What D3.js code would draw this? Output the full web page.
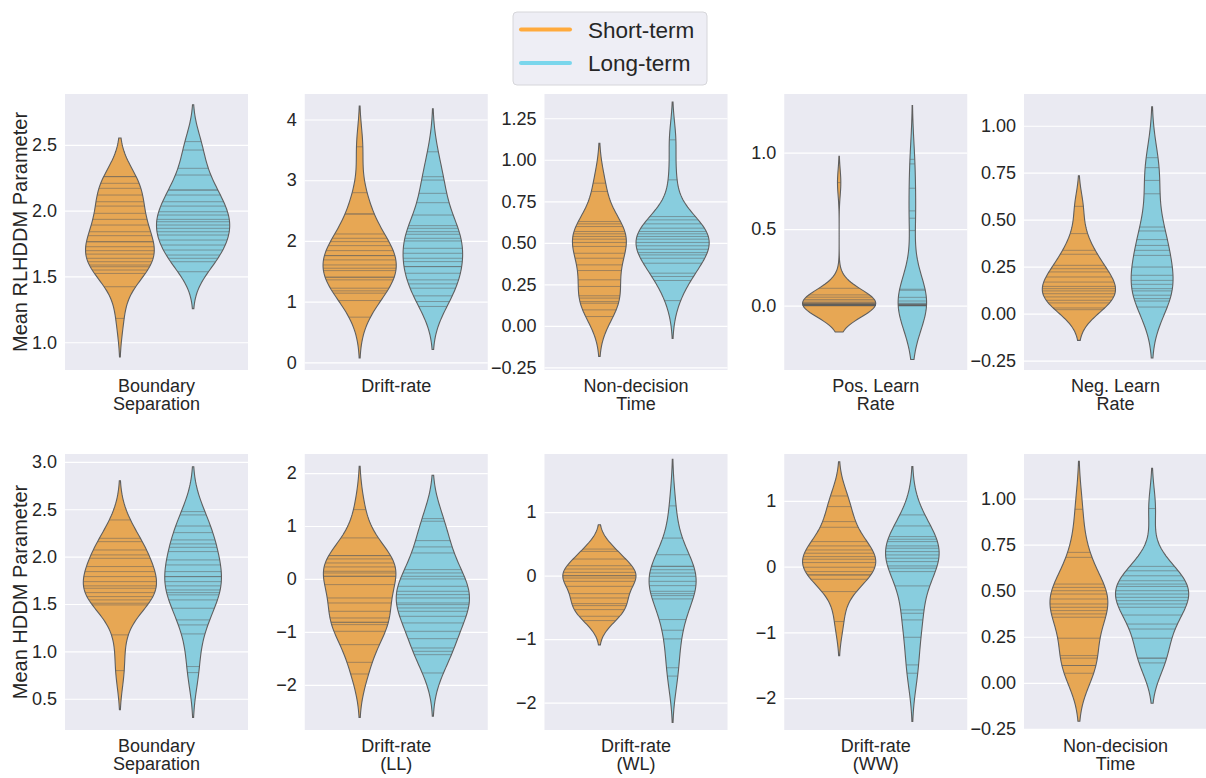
<!DOCTYPE html>
<html>
<head>
<meta charset="utf-8">
<script src="https://cdn.jsdelivr.net/npm/d3@7"></script>
<style>
  body { margin: 0; background: #ffffff; }
  svg { display: block; font-family: "Liberation Sans", Arial, sans-serif; }
</style>
</head>
<body>
<svg id="chart" width="1206" height="778"></svg>
<script>
// ---- data -------------------------------------------------------------
const groups = ["Short-term", "Long-term"];
const groupColors = ["#FFAA3C", "#7AD6EC"];

const rowLabels = ["Mean RLHDDM Parameter", "Mean HDDM Parameter"];

const paramLabels = [
  ["Boundary", "Separation"], ["Drift-rate"], ["Non-decision", "Time"],
  ["Pos. Learn", "Rate"], ["Neg. Learn", "Rate"],
  ["Boundary", "Separation"], ["Drift-rate", "(LL)"], ["Drift-rate", "(WL)"],
  ["Drift-rate", "(WW)"], ["Non-decision", "Time"]
];

// per-participant parameter means, short-term group
const shortTerm = [
  [2.259, 2.259, 2.208, 2.17, 2.119, 2.068, 2.035, 1.98, 1.934, 1.891, 1.84, 1.81, 1.764, 1.764, 1.726, 1.696, 1.67, 1.638, 1.612, 1.587, 1.574, 1.549, 1.523, 1.422, 1.181],
  [3.551, 2.795, 2.444, 2.444, 2.115, 2.044, 1.989, 1.923, 1.841, 1.759, 1.759, 1.688, 1.605, 1.551, 1.512, 1.403, 1.403, 1.359, 1.222, 1.178, 1.14, 1.019, 0.745],
  [0.859, 0.809, 0.628, 0.614, 0.598, 0.568, 0.554, 0.538, 0.522, 0.502, 0.478, 0.437, 0.407, 0.367, 0.333, 0.277, 0.237, 0.181, 0.167, 0.146, 0.136, 0.096, 0.056],
  [0.804, 0.113, 0.07, 0.055, 0.04, 0.03, 0.02, 0.015, 0.012, 0.01, 0.008, 0.006, 0.005, 0.004, 0.003, 0.002, 0.002, 0.001, 0.001, 0.001, 0, 0, 0, 0],
  [0.571, 0.426, 0.337, 0.316, 0.257, 0.239, 0.222, 0.195, 0.168, 0.145, 0.133, 0.121, 0.106, 0.089, 0.071, 0.057, 0.03, 0.021],
  [2.387, 2.193, 2.158, 2.07, 2.018, 1.982, 1.895, 1.842, 1.789, 1.736, 1.691, 1.666, 1.62, 1.578, 1.543, 1.508, 1.49, 1.174, 0.797],
  [1.31, 0.775, 0.441, 0.441, 0.378, 0.302, 0.227, 0.145, 0.113, 0.05, 0.05, -0.107, -0.359, -0.454, -0.611, -0.737, -0.819, -0.819, -0.863, -0.989, -1.241, -1.575, -1.795],
  [0.419, 0.382, 0.262, 0.157, 0.105, 0.052, 0, 0, -0.037, -0.089, -0.168, -0.283, -0.351, -0.44, -0.471, -0.534, -0.639, -0.707],
  [1.074, 0.912, 0.684, 0.598, 0.38, 0.314, 0.253, 0.203, 0.152, 0.112, 0.061, -0.01, -0.076, -0.127, -0.127, -0.193, -0.38, -0.836],
  [0.942, 0.708, 0.681, 0.536, 0.518, 0.5, 0.482, 0.455, 0.428, 0.41, 0.392, 0.374, 0.356, 0.242, 0.148, 0.134, 0.094, 0.094, 0.052]
];

// per-participant parameter means, long-term group
const longTerm = [
  [2.525, 2.461, 2.322, 2.271, 2.157, 2.157, 2.119, 2.068, 2.035, 1.992, 1.967, 1.934, 1.916, 1.891, 1.866, 1.84, 1.815, 1.777, 1.739, 1.701, 1.663, 1.638, 1.612, 1.536],
  [3.468, 3.058, 3.003, 2.784, 2.63, 2.427, 2.252, 2.208, 2.153, 2.11, 2.044, 2.0, 1.879, 1.797, 1.715, 1.66, 1.578, 1.578, 1.468, 1.359, 1.293, 1.222, 1.096, 1.003, 0.921],
  [1.12, 0.879, 0.658, 0.638, 0.614, 0.588, 0.568, 0.554, 0.538, 0.522, 0.502, 0.482, 0.461, 0.441, 0.427, 0.407, 0.377, 0.317, 0.297, 0.273, 0.152],
  [0.956, 0.926, 0.767, 0.619, 0.571, 0.49, 0.107, 0.1, 0.054, 0.03, 0.015, 0.01, 0.008, 0.005, 0.003, 0.002, 0.001, 0.001, 0, 0, 0, 0, 0],
  [0.83, 0.777, 0.709, 0.638, 0.461, 0.44, 0.394, 0.363, 0.337, 0.31, 0.248, 0.204, 0.177, 0.156, 0.133, 0.121, 0.098, 0.08, 0.067, 0.035],
  [2.475, 2.44, 2.323, 2.253, 2.176, 2.134, 2.098, 2.053, 1.965, 1.912, 1.842, 1.789, 1.789, 1.736, 1.691, 1.648, 1.62, 1.596, 1.543, 1.455, 1.332, 1.279, 1.184, 0.84, 0.776],
  [1.14, 1.09, 0.724, 0.605, 0.491, 0.176, 0.113, 0.05, 0, -0.139, -0.233, -0.296, -0.359, -0.454, -0.485, -0.548, -0.611, -0.706, -0.831, -0.989, -1.128, -1.304, -1.367, -1.43, -1.776],
  [1.099, 0.592, 0.33, 0.147, 0.147, 0.094, 0.042, -0.01, -0.089, -0.157, -0.246, -0.283, -0.314, -0.366, -0.691, -0.859, -0.995, -1.45, -1.581],
  [0.786, 0.618, 0.456, 0.416, 0.38, 0.314, 0.279, 0.228, 0.177, 0.127, 0.076, 0.01, -0.025, -0.076, -0.294, -0.659, -0.71, -0.811, -1.075, -1.495, -1.622],
  [0.946, 0.632, 0.608, 0.581, 0.554, 0.536, 0.523, 0.5, 0.482, 0.464, 0.446, 0.428, 0.41, 0.368, 0.319, 0.292, 0.242, 0.134, 0.134, 0.108]
];

const yDomains = [
  [0.789, 2.887], [-0.125, 4.42], [-0.266, 1.396], [-0.421, 1.383], [-0.3, 1.169],
  [0.17, 3.083], [-2.853, 2.36], [-2.43, 1.916], [-2.485, 1.712], [-0.256, 1.242]
];

const yTicks = [
  [1.0, 1.5, 2.0, 2.5], [0, 1, 2, 3, 4], [-0.25, 0, 0.25, 0.5, 0.75, 1.0, 1.25],
  [0, 0.5, 1.0], [-0.25, 0, 0.25, 0.5, 0.75, 1.0],
  [0.5, 1.0, 1.5, 2.0, 2.5, 3.0], [-2, -1, 0, 1, 2], [-2, -1, 0, 1],
  [-2, -1, 0, 1], [-0.25, 0, 0.25, 0.5, 0.75, 1.0]
];

const tickFormats = [".1f", "d", ".2f", ".1f", ".2f", ".1f", "d", "d", "d", ".2f"];

// ---- layout -----------------------------------------------------------
const svg = d3.select("#chart");
const panelW = 183, panelH = 276;
const colLeft = c => 65 + c * 239.75;
const rowTop = [94, 454];
const textColor = "#262626";
const axesBg = "#EAEAF2";

// lighter, desaturated fill for the violin bodies
const fillColors = groupColors.map(c => {
  const h = d3.hsl(c);
  h.s *= 0.75;
  return h.formatHex();
});
const lineGray = (() => {
  const l = d3.min(groupColors, c => d3.hsl(c).l) * 0.6;
  return d3.rgb(255 * l, 255 * l, 255 * l).formatHex();
})();

// Gaussian KDE with Scott's bandwidth, support cut at 2 bandwidths
function kde(vals) {
  const n = vals.length;
  const bw = Math.pow(n, -0.2) * d3.deviation(vals);
  const lo = d3.min(vals) - 2 * bw, hi = d3.max(vals) + 2 * bw;
  const norm = 1 / (n * bw * Math.sqrt(2 * Math.PI));
  const at = v => norm * d3.sum(vals, x => Math.exp(-0.5 * ((v - x) / bw) ** 2));
  const grid = d3.range(100).map(i => lo + (hi - lo) * i / 99);
  return { at, curve: grid.map(v => ({ v, d: at(v) })) };
}

const fmtMinus = f => v => d3.format(f)(v).replace("-", "\u2212");

paramLabels.forEach((label, p) => {
  const row = Math.floor(p / 5), col = p % 5;
  const x0 = colLeft(col), y0 = rowTop[row];
  const g = svg.append("g").attr("transform", `translate(${x0},${y0})`);

  const x = d3.scaleLinear().domain([-0.5, 0.5]).range([0, panelW]);
  const y = d3.scaleLinear().domain(yDomains[p]).range([panelH, 0]);

  g.append("rect").attr("width", panelW).attr("height", panelH).attr("fill", axesBg);

  // horizontal grid + tick labels
  const yAxis = d3.axisLeft(y).tickValues(yTicks[p]).tickFormat(fmtMinus(tickFormats[p]))
    .tickSize(-panelW).tickPadding(8);
  const ax = g.append("g").call(yAxis);
  ax.select(".domain").remove();
  ax.selectAll(".tick line").attr("stroke", "#ffffff").attr("stroke-width", 1.2);
  ax.selectAll(".tick text").attr("fill", textColor).attr("font-size", 18)
    .attr("font-family", "Liberation Sans, Arial, sans-serif");

  const sets = [shortTerm[p], longTerm[p]];
  const dens = sets.map(kde);
  const maxD = d3.max(dens, k => d3.max(k.curve, c => c.d));
  const half = 0.2;
  const centers = [-0.2, 0.2];

  sets.forEach((vals, gi) => {
    const k = dens[gi], c = centers[gi];
    const area = d3.area()
      .y(d => y(d.v))
      .x0(d => x(c - d.d / maxD * half))
      .x1(d => x(c + d.d / maxD * half));
    g.append("path").datum(k.curve).attr("d", area)
      .attr("fill", fillColors[gi]).attr("stroke", lineGray).attr("stroke-width", 1.1);

    g.append("g").selectAll("line").data(vals).join("line")
      .attr("x1", v => x(c - k.at(v) / maxD * half))
      .attr("x2", v => x(c + k.at(v) / maxD * half))
      .attr("y1", v => y(v)).attr("y2", v => y(v))
      .attr("stroke", lineGray).attr("stroke-opacity", 0.5).attr("stroke-width", 1);
  });

  // category label under the panel
  const t = g.append("text").attr("x", panelW / 2).attr("y", panelH + 22)
    .attr("text-anchor", "middle").attr("font-size", 18).attr("fill", textColor);
  label.forEach((line, i) => {
    t.append("tspan").attr("x", panelW / 2).attr("dy", i === 0 ? 0 : 17.6).text(line);
  });

  if (col === 0) {
    svg.append("text")
      .attr("transform", `translate(${x0 - 45},${y0 + panelH / 2}) rotate(-90)`)
      .attr("text-anchor", "middle").attr("dy", "0.35em")
      .attr("font-size", 20).attr("fill", textColor).text(rowLabels[row]);
  }
});

// legend
const lg = svg.append("g").attr("transform", "translate(513,12)");
lg.append("rect").attr("width", 194).attr("height", 73).attr("rx", 4)
  .attr("fill", "#EEEEF5").attr("stroke", "#D6D6DA").attr("stroke-width", 1);
groups.forEach((name, i) => {
  const yy = 17.5 + i * 33.5;
  lg.append("line").attr("x1", 8).attr("x2", 57).attr("y1", yy).attr("y2", yy)
    .attr("stroke", groupColors[i]).attr("stroke-width", 4).attr("stroke-linecap", "round");
  lg.append("text").attr("x", 75).attr("y", yy).attr("dy", "0.36em")
    .attr("font-size", 22.5).attr("fill", textColor).text(name);
});
</script>
</body>
</html>
